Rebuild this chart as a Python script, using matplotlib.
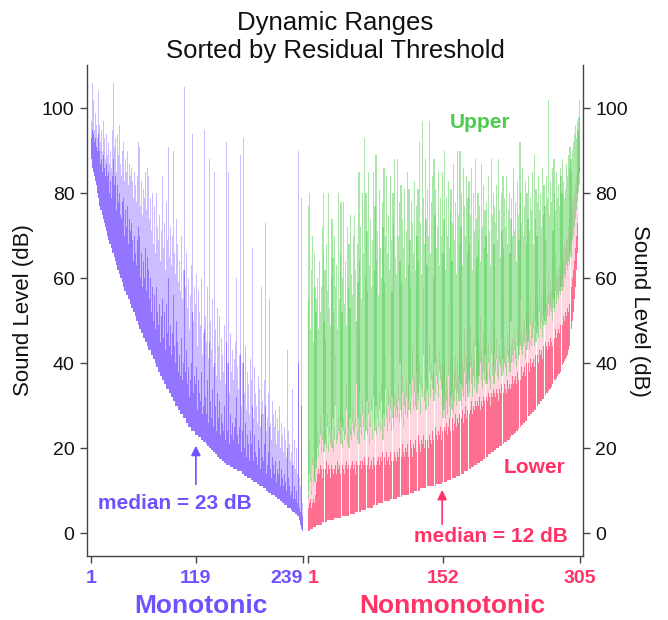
import numpy as np
import matplotlib
matplotlib.use("Agg")
import matplotlib.pyplot as plt

plt.rcParams['font.family'] = ['Liberation Sans', 'DejaVu Sans']

# ---------------- Monotonic neurons (sorted by residual threshold) ----------------
mono_thr = [
 90,88,86,85,84,83,82,80,79,78,
 77,76,76,75,74,73,72,71,71,70,
 69,68,68,67,66,66,65,64,64,63,
 62,62,61,60,60,59,59,58,57,57,
 56,56,55,55,54,54,53,53,52,52,
 51,50,50,49,49,48,48,47,47,46,
 46,45,45,44,44,43,43,43,42,42,
 41,41,40,40,39,39,38,38,37,37,
 36,36,36,35,35,34,34,34,33,33,
 32,32,32,31,31,30,30,30,29,29,
 29,28,28,28,27,27,27,26,26,26,
 25,25,25,24,24,24,24,23,23,23,
 23,22.5,22.5,22.5,22,22,22,21.5,21.5,21.5,
 21,20.5,20.5,20,20,20,19.5,19.5,19,19,
 18.5,18.5,18,18,18,17.5,17.5,17.5,17,17,
 16.5,16.5,16,16,16,16,16,15.5,15.5,15.5,
 15,15,15,15,15,14.5,14.5,14.5,14.5,14.5,
 14,14,14,13.5,13.5,13.5,13,13,13,13,
 12.5,12.5,12.5,12,12,12,12,11.5,11.5,11.5,
 11,11,11,11,10.5,10.5,10.5,10,10,10,
 9.5,9.5,9.5,9,9,9,9,8.5,8.5,8.5,
 8,8,8,7.5,7.5,7,7,7,6.5,6.5,
 6.5,6,6,6,6,5.5,5.5,5,5,5,
 4.5,4.5,4,4,3,3,2,1,0.5]
mono_mid = [
 95,93,95,94,92,93,91,90,94,89,
 90,87,88,85,89,86,84,87,83,84,
 85,80,83,79,84,88,82,78,84,76,
 82,78,80,75,74,78,73,79,70,76,
 72,77,68,74,71,67,73,69,64,70,
 66,63,69,72,62,70,60,66,58,64,
 60,67,57,63,65,62,55,60,52,58,
 50,56,53,48,58,52,49,54,45,51,
 55,48,46,52,43,54,47,60,44,49,
 58,42,47,56,44,40,50,45,38,49,
 42,37,46,36,40,62,38,43,55,35,
 39,32,36,40,52,33,37,30,35,39,
 29,36,33,31,38,28,34,30,48,32,
 28,36,26,45,31,42,27,34,25,40,
 30,24,33,27,25,31,23,28,26,24,
 30,22,45,27,24,40,21,28,23,26,
 22,25,20,27,32,23,21,25,42,19,
 24,22,40,20,26,18,23,21,17,24,
 19,21,30,17,23,19,18,16,22,36,
 20,15,28,18,17,21,30,14,18,16,
 19,25,15,13,18,16,14,28,17,12,
 15,14,17,11,15,13,35,11,14,12,
 10,20,13,11,9,12,10,16,8,11,
 8,10,7,40,9,6,5,30,4]
mono_top = [
 100,97,106,102,95,99,96,93,104,98,
 96,92,95,90,97,93,88,94,91,89,
 92,87,90,86,95,106,91,88,93,85,
 94,89,96,87,84,90,86,92,83,88,
 85,90,82,87,84,80,86,83,79,85,
 82,78,84,92,80,91,77,83,75,81,
 79,85,76,83,86,84,74,79,71,80,
 68,77,73,66,80,72,69,75,64,71,
 84,70,67,73,62,78,69,91,65,72,
 88,63,70,90,66,61,74,68,59,75,
 64,57,70,55,62,105,58,66,95,53,
 60,48,56,63,94,50,58,46,54,61,
 44,57,52,49,60,42,55,47,95,51,
 45,58,41,88,50,86,43,55,39,85,
 48,37,53,44,40,51,36,46,42,38,
 49,35,92,44,40,85,33,47,38,43,
 36,41,31,45,60,39,34,42,89,30,
 40,37,93,33,44,29,38,35,28,41,
 32,36,67,27,39,33,30,26,37,86,
 34,25,58,31,28,36,73,24,30,27,
 33,55,26,22,31,28,25,62,29,21,
 27,24,30,20,26,23,82,19,25,22,
 18,43,24,21,17,23,19,34,16,22,
 15,20,14,90,18,13,11,79,7]

# ---------------- Nonmonotonic neurons ----------------
non_low = [
 0,0.5,0.5,1,1,1,1.5,1.5,1.5,1.5,
 2,2,2,2,2,2,2.5,2.5,2.5,2.5,
 2.5,2.5,3,3,3,3,3,3,3,3,
 3.5,3.5,3.5,3.5,3.5,3.5,3.5,4,4,4,
 4,4,4,4,4,4,4.5,4.5,4.5,4.5,
 4.5,4.5,4.5,5,5,5,5,5,5,5,
 5.5,5.5,5.5,5.5,5.5,5.5,6,6,6,6,
 6,6,6,6.5,6.5,6.5,6.5,6.5,6.5,7,
 7,7,7,7,7,7,7.5,7.5,7.5,7.5,
 7.5,7.5,8,8,8,8,8,8,8,8,
 8.5,8.5,8.5,8.5,8.5,8.5,9,9,9,9,
 9,9,9,9.5,9.5,9.5,9.5,9.5,9.5,10,
 10,10,10,10,10,10,10.5,10.5,10.5,10.5,
 10.5,10.5,10.5,10.5,11,11,11,11,11,11,
 11,11,11,11,11.5,11.5,11.5,11.5,11.5,11.5,
 12,12,12,12,12,12,12.5,12.5,12.5,12.5,
 12.5,13,13,13,13,13,13.5,13.5,13.5,13.5,
 14,14,14,14,14,14.5,14.5,14.5,14.5,15,
 15,15,15,15.5,15.5,15.5,16,16,16,16,
 16.5,16.5,16.5,17,17,17,17.5,17.5,17.5,18,
 18,18,18.5,18.5,18.5,19,19,19,19.5,19.5,
 19.5,20,20,20,20.5,20.5,20.5,21,21,21,
 21.5,21.5,21.5,22,22,22,22.5,22.5,23,23,
 23,23.5,23.5,24,24,24.5,24.5,25,25,25.5,
 25.5,26,26,26.5,26.5,27,27,27.5,27.5,28,
 28,28.5,28.5,29,29,29.5,29.5,30,30.5,30.5,
 31,31,31.5,31.5,32,32.5,32.5,33,33,33.5,
 34,34,34.5,35,35,35.5,36,36,36.5,37,
 37.5,37.5,38,38.5,39,39.5,40,40.5,41,41.5,
 42,43,44,45,46,48,50,52,55,58,
 62,66,71,77,85]
non_core = [
 7,6,7,8,6,7,8,7,9,8,
 12,14,15,14,16,15,13,15,16,14,
 15,17,14,16,15,13,16,15,17,14,
 15,16,14,17,15,16,14,15,17,16,
 15,14,16,17,15,16,14,18,15,16,
 17,15,16,14,17,16,18,15,16,17,
 15,17,16,18,16,15,17,16,18,15,
 16,17,15,18,16,17,19,16,17,18,
 16,18,17,19,16,17,18,16,19,17,
 18,16,19,17,18,20,17,19,18,17,
 19,18,20,17,19,18,21,19,18,20,
 19,21,18,20,19,22,20,18,21,20,
 22,19,21,20,23,21,19,22,21,23,
 20,22,21,24,22,20,23,22,21,24,
 22,23,21,25,23,22,24,23,25,22,
 24,26,23,25,24,26,23,25,27,24,
 26,25,27,24,26,28,25,27,26,28,
 26,28,27,29,26,28,30,27,29,28,
 30,28,29,31,28,30,29,31,30,29,
 31,30,32,29,31,30,32,31,33,30,
 32,31,33,32,30,33,32,34,31,33,
 32,34,33,31,34,33,35,32,34,33,
 35,34,33,36,34,35,34,36,35,37,
 35,36,37,35,38,36,37,38,36,39,
 37,38,39,37,40,38,39,40,38,41,
 39,40,41,39,42,40,41,42,40,43,
 42,43,41,44,42,43,45,44,43,45,
 44,46,45,44,47,45,46,48,46,47,
 48,47,49,48,50,49,51,50,52,51,
 53,52,54,55,57,58,60,62,64,67,
 70,73,77,81,86]
non_pink = [
 12,9,22,13,10,18,11,15,13,17,
 20,24,19,22,27,20,24,66,21,23,
 24,22,28,21,25,23,27,22,33,21,
 25,42,23,24,27,25,30,23,28,22,
 27,24,25,35,23,27,22,30,25,24,
 30,26,25,27,50,24,29,23,45,28,
 25,32,27,24,29,26,36,25,31,23,
 27,32,24,38,28,26,34,25,30,27,
 33,26,35,29,24,31,27,42,30,26,
 34,28,32,26,36,30,27,33,29,32,
 30,35,28,55,32,29,37,27,33,31,
 36,29,34,32,39,31,35,44,31,37,
 33,48,32,36,34,40,31,37,35,58,
 34,41,32,38,36,33,45,35,40,37,
 38,34,52,36,42,38,35,43,40,37,
 38,32,35,40,33,37,34,54,36,33,
 39,35,41,34,38,42,36,40,37,46,
 38,43,36,41,39,48,37,42,40,38,
 44,40,49,42,39,45,41,62,43,40,
 46,42,45,51,43,41,47,44,57,42,
 40,38,45,39,37,50,40,43,38,48,
 41,46,40,39,44,42,55,40,45,41,
 44,42,40,47,43,45,41,65,44,46,
 43,47,45,42,49,44,46,48,72,47,
 45,48,50,44,52,47,49,51,46,55,
 48,50,53,47,56,49,52,54,50,60,
 52,55,50,57,53,55,58,54,56,62,
 56,59,57,55,61,58,57,66,60,62,
 60,63,61,65,62,66,64,68,67,70,
 69,72,71,75,74,76,78,79,80,82,
 84,85,88,90,92]
non_gbot = [
 10,8,14,12,9,16,11,13,12,15,
 17,20,18,21,23,19,22,28,19,21,
 22,20,25,19,23,21,24,20,27,19,
 22,30,21,22,24,23,26,21,25,20,
 24,22,23,29,21,25,20,27,23,22,
 26,24,23,25,35,22,27,21,33,25,
 23,28,25,22,27,24,31,23,28,21,
 25,29,22,32,26,24,30,23,27,25,
 29,24,31,27,22,28,25,34,27,24,
 30,26,29,24,32,27,25,30,27,29,
 27,31,26,40,29,27,33,25,30,28,
 32,27,31,29,35,28,32,36,29,33,
 30,38,29,33,31,35,28,34,32,42,
 31,36,29,34,33,30,38,32,36,34,
 34,31,40,33,37,35,32,38,36,34,
 30,27,29,32,27,31,28,37,30,27,
 32,29,33,28,31,34,30,33,31,36,
 31,35,30,34,32,38,31,35,33,32,
 36,33,39,35,32,37,34,44,36,33,
 37,35,37,40,36,34,38,36,42,35,
 36,35,40,36,34,42,37,39,35,42,
 38,41,37,36,40,39,46,37,41,38,
 40,39,37,42,40,41,38,50,40,42,
 40,43,41,39,44,41,42,44,55,43,
 42,44,45,41,47,43,45,46,43,49,
 44,46,48,44,50,45,47,49,46,52,
 48,50,46,51,49,50,52,49,51,54,
 51,53,52,50,55,53,52,57,54,56,
 55,57,56,58,57,60,58,61,60,63,
 62,64,63,66,65,68,69,70,72,74,
 76,78,80,82,85]
non_gtop = [
 77,55,80,48,62,70,45,66,58,52,
 55,60,48,64,52,58,72,80,50,62,
 46,68,57,80,53,49,60,74,65,52,
 70,58,63,48,80,55,66,78,52,60,
 78,54,64,49,72,58,68,53,75,61,
 56,70,75,62,50,68,59,85,64,72,
 55,80,66,93,60,80,71,57,85,63,
 74,58,69,85,62,77,89,64,71,56,
 81,67,60,78,72,86,59,70,84,66,
 75,62,84,69,57,80,73,88,65,61,
 88,70,78,64,82,59,74,67,81,60,
 71,85,63,81,69,58,78,73,66,83,
 62,77,70,81,64,92,73,61,97,79,
 68,88,74,63,81,70,97,66,78,84,
 60,88,75,81,67,72,85,63,79,70,
 85,66,74,90,62,79,70,83,67,76,
 81,64,73,87,69,78,61,90,75,68,
 90,72,80,63,86,77,70,84,66,79,
 83,68,75,86,62,80,71,88,74,65,
 80,69,77,64,87,72,82,67,76,70,
 78,66,84,71,63,88,75,80,68,77,
 73,82,69,88,76,65,80,71,84,67,
 79,72,84,68,76,80,66,74,79,70,
 86,71,78,64,83,75,69,92,80,73,
 86,70,77,83,68,80,74,84,71,79,
 76,85,68,89,74,81,70,78,84,76,
 80,72,86,75,82,77,69,84,79,102,
 75,83,78,86,71,88,80,76,85,79,
 82,77,86,84,80,88,83,79,81,87,
 84,89,86,91,88,85,90,92,94,96,
 93,97,95,98,102]

mono_ticks = [1, 119, 239]
non_ticks = [1, 152, 305]
y_ticks = [0, 20, 40, 60, 80, 100]
mono_median = 23
non_median = 12

PURPLE_TXT = '#7050FF'
PURPLE = '#8D6DFF'
PINK_TXT = '#FF3366'
PINK = '#FF6A8C'
GREEN_TXT = '#4CCC4C'
GREEN = '#48CC48'
AX = '#444444'

for name, arr, n in [('mono_thr', mono_thr, 239), ('mono_mid', mono_mid, 239), ('mono_top', mono_top, 239),
                     ('non_low', non_low, 305), ('non_core', non_core, 305), ('non_pink', non_pink, 305),
                     ('non_gbot', non_gbot, 305), ('non_gtop', non_gtop, 305)]:
    assert len(arr) == n, (name, len(arr))

m_thr = np.array(mono_thr, float)
m_mid = np.maximum(np.array(mono_mid, float), m_thr)
m_top = np.maximum(np.array(mono_top, float), m_mid)
n_low = np.array(non_low, float)
n_core = np.maximum(np.array(non_core, float), n_low)
n_pink = np.maximum(np.array(non_pink, float), n_core)
n_gb = np.array(non_gbot, float)
n_gt = np.maximum(np.array(non_gtop, float), n_gb)

W, H = 668, 620
fig = plt.figure(figsize=(W / 100, H / 100), dpi=100)

def px_axes(x0, x1, y0, y1):
    return fig.add_axes([x0 / W, 1 - y1 / H, (x1 - x0) / W, (y1 - y0) / H])

YLIM = (-5.4, 110.2)
axL = px_axes(87, 303, 65, 556)
axR = px_axes(307.5, 583, 65, 556)

# ---- left panel ----
xm = np.arange(1, len(m_thr) + 1)
axL.bar(xm, m_top - m_thr, bottom=m_thr, width=0.95, color=PURPLE, alpha=0.45, linewidth=0)
axL.bar(xm, m_mid - m_thr, bottom=m_thr, width=0.9, color=PURPLE, alpha=0.9, linewidth=0)
axL.set_xlim(-3.5, 239.5)
axL.set_ylim(*YLIM)

# ---- right panel ----
xn = np.arange(1, len(n_low) + 1)
axR.bar(xn, n_pink - n_low, bottom=n_low, width=0.9, color=PINK, alpha=0.28, linewidth=0)
axR.bar(xn, n_core - n_low, bottom=n_low, width=0.9, color=PINK, alpha=0.95, linewidth=0)
axR.bar(xn, n_gt - n_gb, bottom=n_gb, width=1.35, color=GREEN, alpha=0.47, linewidth=0)
axR.set_xlim(0.5, 308.5)
axR.set_ylim(*YLIM)

for ax in (axL, axR):
    for s in ax.spines.values():
        s.set_color(AX)
        s.set_linewidth(1.0)
    ax.spines['top'].set_visible(False)
    ax.tick_params(axis='both', colors=AX, length=5, width=1.0, direction='out')
    ax.set_yticks(y_ticks)

axL.spines['right'].set_visible(False)
axR.spines['left'].set_visible(False)
axR.yaxis.tick_right()
axL.tick_params(axis='y', labelsize=14, labelcolor='#111111', pad=4)
axR.tick_params(axis='y', labelsize=14, labelcolor='#111111', pad=4, left=False, right=True)

axL.set_xticks(mono_ticks)
axL.set_xticklabels([str(t) for t in mono_ticks], fontsize=14, fontweight='bold', color=PURPLE_TXT)
axR.set_xticks(non_ticks)
axR.set_xticklabels([str(t) for t in non_ticks], fontsize=14, fontweight='bold', color=PINK_TXT)
axL.tick_params(axis='x', pad=5)
axR.tick_params(axis='x', pad=5)
axL.get_xticklabels()[-1].set_ha('right')
axR.get_xticklabels()[0].set_ha('left')

axL.set_ylabel('Sound Level (dB)', fontsize=16, color='#111111', labelpad=6)
axR.yaxis.set_label_position('right')
axR.set_ylabel('Sound Level (dB)', fontsize=16, color='#111111', rotation=270, labelpad=16)

# medians
axL.annotate('', xy=(119, mono_median - 1.8), xytext=(119, 10.8),
             arrowprops=dict(arrowstyle='-|>', color=PURPLE_TXT, lw=1.2, mutation_scale=14))
axL.text(95.4, 7.0, f'median = {mono_median} dB', ha='center', va='center',
         fontsize=15, fontweight='bold', color=PURPLE_TXT)
axR.annotate('', xy=(151, non_median - 1.2), xytext=(151, 1.4),
             arrowprops=dict(arrowstyle='-|>', color=PINK_TXT, lw=1.2, mutation_scale=14))
axR.text(205.8, -0.9, f'median = {non_median} dB', ha='center', va='center',
         fontsize=15, fontweight='bold', color=PINK_TXT)
axR.text(193.5, 96.7, 'Upper', ha='center', va='center', fontsize=15, fontweight='bold', color=GREEN_TXT)
axR.text(254, 15.5, 'Lower', ha='center', va='center', fontsize=15, fontweight='bold', color=PINK_TXT)

fig.text(201 / W, 1 - 606 / H, 'Monotonic', ha='center', va='center', fontsize=19,
         fontweight='bold', color=PURPLE_TXT)
fig.text(452 / W, 1 - 606 / H, 'Nonmonotonic', ha='center', va='center', fontsize=19,
         fontweight='bold', color=PINK_TXT)
fig.text(335 / W, 1 - 37 / H, 'Dynamic Ranges\nSorted by Residual Threshold', ha='center',
         va='center', fontsize=18.5, color='#111111', linespacing=1.2)

fig.savefig('out.png', dpi=100, facecolor='white')
